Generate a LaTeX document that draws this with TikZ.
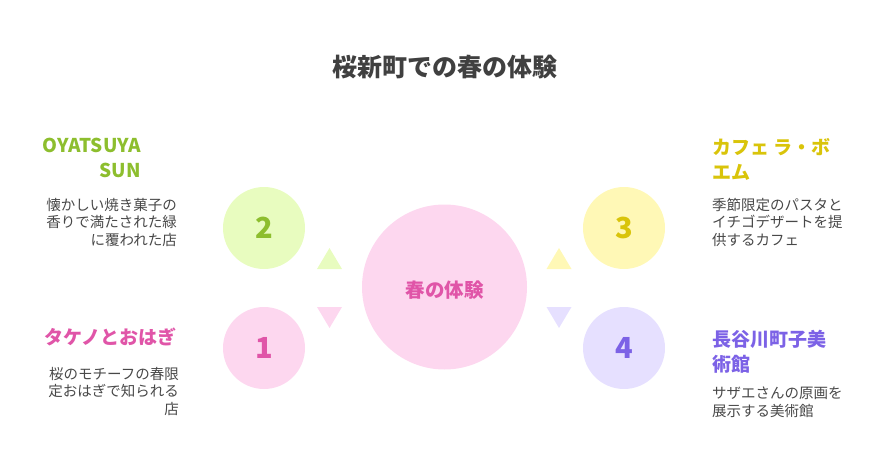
\documentclass[tikz,border=0pt]{standalone}
\usepackage{fontspec}
\setmainfont{Noto Sans CJK JP}
\usepackage{tikz}
\usetikzlibrary{positioning}

\definecolor{ink}{HTML}{484848}
\definecolor{titleink}{HTML}{404040}
\definecolor{greenfill}{HTML}{E8FCBF}
\definecolor{greenink}{HTML}{8DBE2E}
\definecolor{pinkfill}{HTML}{FDD7EF}
\definecolor{pinkink}{HTML}{E055A8}
\definecolor{yellowfill}{HTML}{FFF8B6}
\definecolor{yellowink}{HTML}{D9C40A}
\definecolor{lilacfill}{HTML}{E6E0FF}
\definecolor{lilacink}{HTML}{7C62E6}

\begin{document}
\begin{tikzpicture}[
x=1pt,
y=-1pt,
bubble/.style={
  circle,
  draw=none,
  minimum size=82pt,
  inner sep=0pt
  },
digit/.style={
  font=\fontsize{29}{29}\selectfont\bfseries
  },
head/.style={
  inner sep=0pt,
  font=\fontsize{19}{25}\selectfont\bfseries
  },
desc/.style={
  inner sep=0pt,
  text=ink,
  font=\fontsize{14.5}{17.5}\selectfont
  }
]
\useasboundingbox (0,0) rectangle (888,468);

\node[text=titleink, font=\fontsize{25}{25}\selectfont\bfseries] (title) at (444.5,67) {桜新町での春の体験};

% centre and the four bubbles
\node[bubble, fill=pinkfill, minimum size=165pt] (spring) at (444.5,287) {};
\node[text=pinkink, font=\fontsize{19.5}{19.5}\selectfont\bfseries] (springlabel) at (444.5,290) {春の体験};
\node[bubble, fill=greenfill, text=greenink, digit] (b2) at (264,228) {2};
\node[bubble, fill=pinkfill, text=pinkink, digit] (b1) at (264,348) {1};
\node[bubble, fill=yellowfill, text=yellowink, digit] (b3) at (624,228) {3};
\node[bubble, fill=lilacfill, text=lilacink, digit] (b4) at (624,348) {4};

% small triangles
\foreach \tx/\tb/\tp/\col in {329.5/269/248/greenfill, 329.5/307/328/pinkfill, 559/269/248/yellowfill, 559/307/328/lilacfill}
  \fill[\col] (\tx-12.5,\tb) -- (\tx,\tp) -- (\tx+12.5,\tb) -- cycle;

% left side
\node[head, text=greenink, align=right, anchor=north east] (oyatsu) at (141,138) {OYATSUYA\\SUN};
\node[desc, align=right, anchor=north east] (oyatsutext) at (177,198) {懐かしい焼き菓子の\\香りで満たされた緑\\に覆われた店};
\node[head, text=pinkink, anchor=north east] (takeno) at (177,328) {タケノとおはぎ};
\node[desc, align=right, anchor=north east] (takenotext) at (179,367) {桜のモチーフの春限\\定おはぎで知られる\\店};

% right side
\node[head, text=yellowink, align=left, anchor=north west] (boheme) at (712,138) {カフェ ラ・ボ\\エム};
\node[desc, align=left, anchor=north west] (bohemetext) at (712,198) {季節限定のパスタと\\イチゴデザートを提\\供するカフェ};
\node[head, text=lilacink, align=left, anchor=north west] (museum) at (712,330) {長谷川町子美\\術館};
\node[desc, align=left, anchor=north west] (museumtext) at (712,387) {サザエさんの原画を\\展示する美術館};
\end{tikzpicture}
\end{document}
